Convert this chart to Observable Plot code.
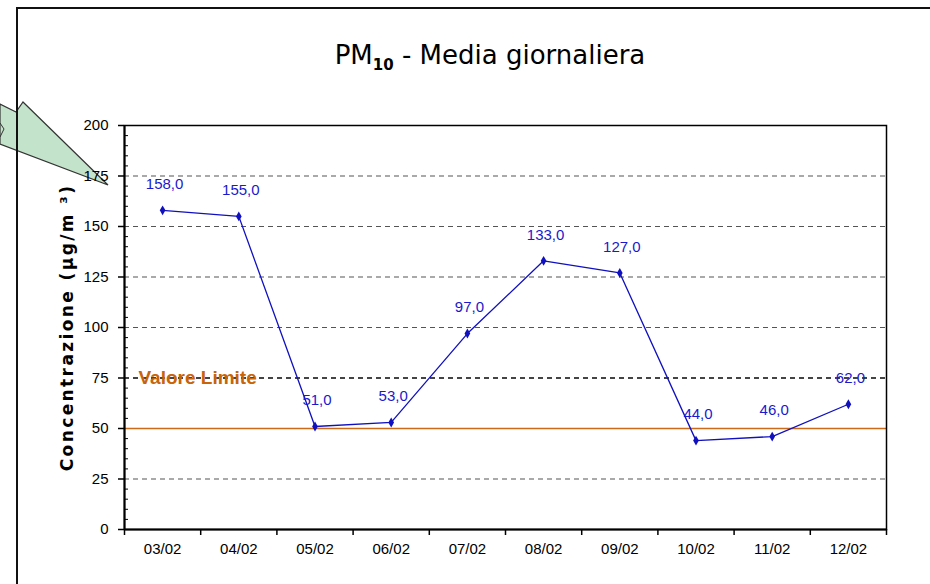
<!DOCTYPE html>
<html>
<head>
<meta charset="utf-8">
<script src="https://cdn.jsdelivr.net/npm/d3@7"></script>
<script src="https://cdn.jsdelivr.net/npm/@observablehq/plot@0.6"></script>
<style>
  html, body { margin: 0; padding: 0; background: #fff; }
  #wrap { position: relative; width: 930px; height: 584px; overflow: hidden; }
  #title { position: absolute; left: 0; width: 980px; top: 40px; text-align: center;
           font-family: "DejaVu Sans", sans-serif; font-size: 26px; color: #000; }
  #title sub { font-size: 15px; font-weight: bold; vertical-align: -6px; }
  #frame { position: absolute; left: 16px; top: 7px; width: 1000px; height: 700px;
           border-left: 2px solid #111; border-top: 2px solid #111; pointer-events: none; }
  #callout { position: absolute; left: 0; top: 0; }
  g[aria-label="y-axis label"] text { font-weight: bold; font-size: 17px; letter-spacing: 2.4px; font-family: "DejaVu Sans", sans-serif; }
</style>
</head>
<body>
<div id="wrap">
  <svg id="callout" width="930" height="584">
    <polygon points="0,104 16,112 23,102 108,185 0,144" fill="#c4e3cb" stroke="#333" stroke-width="1.2"/>
    <polyline points="0,123 4,129 0,137" fill="none" stroke="#333" stroke-width="1"/>
  </svg>
  <div id="frame"></div>
  <div id="title">PM<sub>10</sub> - Media giornaliera</div>
  <div id="chart" style="position:absolute;left:0;top:0;"></div>
</div>
<script>
const dates = ["03/02","04/02","05/02","06/02","07/02","08/02","09/02","10/02","11/02","12/02"];
const values = [158, 155, 51, 53, 97, 133, 127, 44, 46, 62];
const yTicks = [0, 25, 50, 75, 100, 125, 150, 175, 200];
const gridValues = [25, 75, 100, 125, 150, 175];
const limitValue = 50;
const limitLabel = "Valore Limite";
const limitLabelY = 75;
const yLabel = "Concentrazione (µg/m ³)";

const data = dates.map((d, i) => ({date: d, x: i + 0.5, value: values[i]}));
const fmt = v => d3.format(".1f")(v).replace(".", ",");
const minor = d3.range(0, 201, 5).filter(v => v % 25 !== 0);
const narrow = "'Liberation Sans Narrow', 'Arial Narrow', 'Liberation Sans', sans-serif";

const chart = Plot.plot({
  width: 930,
  height: 584,
  marginLeft: 124,
  marginRight: 44,
  marginTop: 125,
  marginBottom: 55,
  style: {fontFamily: "'Liberation Sans', Arial, sans-serif", fontSize: "12px", color: "#000", background: "transparent"},
  x: {domain: [0, dates.length], axis: null},
  y: {domain: [0, 200], axis: null},
  marks: [
    Plot.ruleY(gridValues.filter(v => v !== 75), {stroke: "#555", strokeWidth: 1.2, strokeDasharray: "5,4"}),
    Plot.ruleY([75], {stroke: "#444", strokeWidth: 2.2, strokeDasharray: "5,4"}),
    Plot.ruleY([limitValue], {stroke: "#cc6a1a", strokeWidth: 1.5}),
    Plot.text([limitLabel], {x: 0, y: limitLabelY, text: d => d, textAnchor: "start", dx: 14, fill: "#c8640a", fontWeight: "bold", fontSize: 19, fontFamily: "'Liberation Sans', Arial, sans-serif"}),
    Plot.frame({stroke: "#000", strokeWidth: 1.5}),
    Plot.ruleX([0], {stroke: "#000", strokeWidth: 2}),
    Plot.ruleY([0], {stroke: "#000", strokeWidth: 2}),
    Plot.axisY({ticks: yTicks, tickSize: 6, tickPadding: 10, tickFormat: d => d, fontSize: 15, fontFamily: narrow, stroke: "#000", strokeWidth: 1.5, label: null}),
    Plot.tickY(minor, {y: d => d, x1: 0, x2: 0, stroke: "#000"}),
    Plot.axisY({ticks: [], label: yLabel, labelAnchor: "center", labelOffset: 64, labelArrow: "none"}),
    Plot.axisX({ticks: d3.range(dates.length + 1), tickSize: 6, tickFormat: () => "", stroke: "#000", strokeWidth: 1.5, label: null}),
    Plot.axisX({ticks: data.map(d => d.x), tickSize: 0, tickPadding: 14, tickFormat: v => dates[Math.floor(v)], fontSize: 15, fontFamily: narrow, label: null}),
    Plot.line(data, {x: "x", y: "value", stroke: "#1010c0", strokeWidth: 1.3}),
    Plot.dot(data, {x: "x", y: "value", symbol: "diamond", r: 3, fill: "#1010c0"}),
    Plot.text(data, {x: "x", y: "value", text: d => fmt(d.value), dy: -26, dx: 2, fill: "#1a1acc", fontSize: 15, fontFamily: narrow})
  ]
});

d3.select(chart).selectAll('g[aria-label="tick"] line').attr("x1", 124).attr("x2", 128);

document.getElementById("chart").appendChild(chart);
</script>
</body>
</html>
